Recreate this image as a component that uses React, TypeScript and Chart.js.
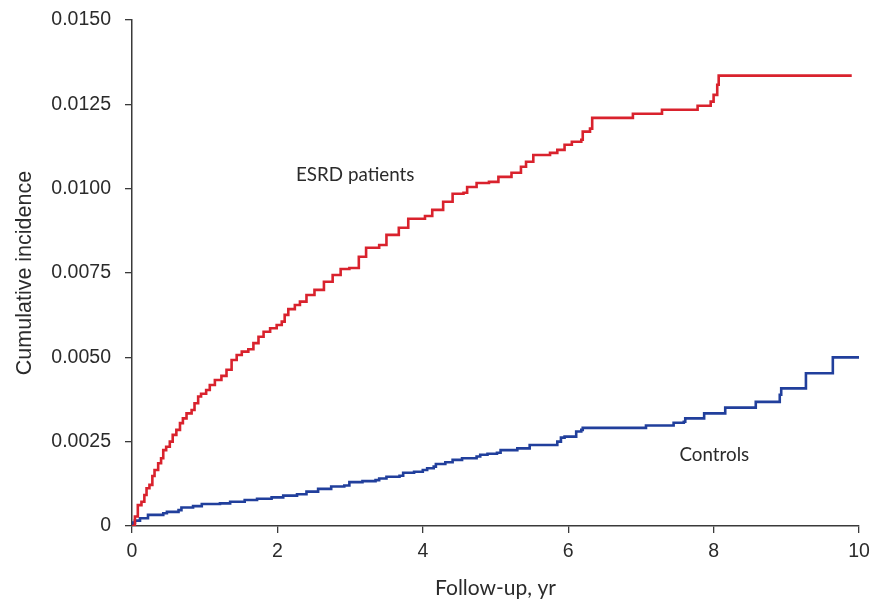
import React, { useEffect, useRef } from "react";
import { Chart, registerables } from "chart.js";

Chart.register(...registerables);

// ESRD patients: event times (years) and cumulative incidence after each step
const esrdTimes = [
  0, 0.04, 0.08, 0.13, 0.17, 0.2, 0.24, 0.28, 0.31, 0.36, 0.4, 0.43, 0.47, 0.52, 0.56, 0.61,
  0.66, 0.7, 0.75, 0.82, 0.86, 0.91, 0.95, 1.02, 1.07, 1.14, 1.23, 1.3, 1.37, 1.44, 1.51, 1.6,
  1.67, 1.74, 1.81, 1.9, 1.99, 2.06, 2.1, 2.15, 2.24, 2.31, 2.4,
  2.51, 2.64, 2.76, 2.87, 2.99, 3.12, 3.22, 3.4, 3.5, 3.67, 3.8, 4.03, 4.13, 4.28, 4.41, 4.56,
  4.61, 4.74, 4.91, 5.04, 5.22, 5.35, 5.42, 5.52, 5.75, 5.85, 5.95, 6.05, 6.18, 6.2, 6.3, 6.33,
  6.89, 7.29, 7.78, 7.96, 8.0, 8.05, 8.07, 9.9,
];
const esrdIncidence = [
  0, 0.00028, 0.00062, 0.00072, 0.00092, 0.00112, 0.00122, 0.00148, 0.00166, 0.00186, 0.00201,
  0.00225, 0.00235, 0.0025, 0.0027, 0.00285, 0.00305, 0.00319, 0.00334, 0.00344, 0.00364,
  0.00384, 0.00392, 0.00403, 0.00418, 0.00433, 0.00445, 0.00463, 0.00492, 0.00507, 0.00517,
  0.00524, 0.00542, 0.00561, 0.00576, 0.00586, 0.00596, 0.00606, 0.00626, 0.00643, 0.00655,
  0.00665, 0.00685,
  0.007, 0.00724, 0.00744, 0.00762, 0.00765, 0.00798, 0.00825, 0.00833, 0.00863,
  0.00884, 0.00911, 0.00919, 0.00937, 0.00961, 0.00985, 0.00988, 0.01005, 0.01017, 0.0102,
  0.01035, 0.01047, 0.01065, 0.0108, 0.011, 0.01106, 0.01115, 0.0113, 0.01139, 0.01145, 0.01169,
  0.01178, 0.0121, 0.01222, 0.01234, 0.01246, 0.01258, 0.01278, 0.01308, 0.01335, 0.01335,
];

// Controls
const controlTimes = [
  0, 0.01, 0.04, 0.11, 0.22, 0.43, 0.48, 0.64, 0.68, 0.84, 0.96, 1.21, 1.35, 1.55, 1.72, 1.92,
  2.08, 2.27, 2.4, 2.56, 2.74, 2.92, 2.99, 3.17, 3.35, 3.4, 3.5, 3.68, 3.73, 3.88, 4.0, 4.06,
  4.15, 4.18, 4.31, 4.41, 4.54, 4.74, 4.79, 4.89, 5.02, 5.07, 5.3, 5.47, 5.85, 5.9, 5.95, 6.11,
  6.18, 6.2, 7.07, 7.45, 7.59, 7.61, 7.87, 8.16, 8.58, 8.91, 8.93, 9.27, 9.64, 10.0,
];
const controlIncidence = [
  0, 0.0001, 0.00016, 0.00023, 0.00033, 0.00038, 0.00042, 0.00047, 0.00055, 0.00059, 0.00065,
  0.00067, 0.00072, 0.00077, 0.00081, 0.00085, 0.0009, 0.00094, 0.00102, 0.0011, 0.00117,
  0.0012, 0.0013, 0.00133, 0.00136, 0.00141, 0.00146, 0.00149, 0.00158, 0.00161, 0.00166,
  0.00171, 0.00176, 0.00184, 0.00189, 0.00196, 0.00201, 0.00206, 0.00211, 0.00214, 0.00217,
  0.00225, 0.0023, 0.0024, 0.0025, 0.00262, 0.00265, 0.0028, 0.00285, 0.00291, 0.00298,
  0.00306, 0.00309, 0.00319, 0.00334, 0.00351, 0.00368, 0.00389, 0.00408, 0.00453, 0.005,
  0.005,
];

const seriesNames = ["ESRD patients", "Controls"];
const xTicks = [0, 2, 4, 6, 8, 10];
const yTicks = [0, 0.0025, 0.005, 0.0075, 0.01, 0.0125, 0.015];

// in-plot labels (data coordinates)
const labelXs = [3.07, 8.01];
const labelYs = [0.0104, 0.0021];

const RED = "#d9222d";
const BLUE = "#213f9c";
const TEXT = "#2b2b2b";
const AXIS = "#3a3a3a";
const TICK_FONT = "'Liberation Sans', Arial, sans-serif";
const NOTE_FONT = "Lato, 'Noto Sans', sans-serif";

const toPoints = (xs: number[], ys: number[]) => xs.map((x, i) => ({ x, y: ys[i] }));

const labelPlugin = {
  id: "seriesLabels",
  afterDatasetsDraw(chart: any) {
    const { ctx, scales } = chart;
    ctx.save();
    ctx.font = `18.8px ${NOTE_FONT}`;
    ctx.fillStyle = TEXT;
    ctx.textAlign = "center";
    ctx.textBaseline = "middle";
    seriesNames.forEach((name, i) => {
      ctx.fillText(name, scales.x.getPixelForValue(labelXs[i]), scales.y.getPixelForValue(labelYs[i]));
    });
    ctx.restore();
  },
};

export default function App() {
  const ref = useRef<HTMLCanvasElement | null>(null);

  useEffect(() => {
    if (!ref.current) return;
    const chart = new Chart(ref.current, {
      type: "line",
      data: {
        datasets: [
          {
            label: seriesNames[0],
            data: toPoints(esrdTimes, esrdIncidence),
            borderColor: RED,
            borderWidth: 2.6,
            pointRadius: 0,
            stepped: true,
            fill: false,
          },
          {
            label: seriesNames[1],
            data: toPoints(controlTimes, controlIncidence),
            borderColor: BLUE,
            borderWidth: 2.6,
            pointRadius: 0,
            stepped: true,
            fill: false,
          },
        ],
      },
      options: {
        animation: false,
        responsive: false,
        events: [],
        layout: { padding: { top: 20, right: 18, left: 0, bottom: 0 } },
        plugins: { legend: { display: false }, tooltip: { enabled: false } },
        scales: {
          x: {
            type: "linear",
            min: 0,
            max: 10,
            afterFit: (s: any) => {
              s.height = 77;
              s.paddingLeft = 0;
              s.paddingRight = 0;
            },
            afterBuildTicks: (s: any) => {
              s.ticks = xTicks.map((v) => ({ value: v }));
            },
            ticks: {
              color: TEXT,
              font: { family: TICK_FONT, size: 19.5 },
              padding: 7,
              maxRotation: 0,
              callback: (v: any) => String(v),
            },
            grid: { display: true, drawOnChartArea: false, drawTicks: true, tickLength: 7, color: AXIS, lineWidth: 1.3 },
            border: { display: true, color: AXIS, width: 1.5 },
            title: {
              display: true,
              text: "Follow-up, yr",
              color: TEXT,
              font: { family: NOTE_FONT, size: 21 },
              padding: { top: 0, bottom: 2 },
            },
          },
          y: {
            type: "linear",
            min: 0,
            max: 0.015,
            afterFit: (s: any) => {
              s.width = 132;
              s.paddingTop = 0;
              s.paddingBottom = 0;
            },
            afterBuildTicks: (s: any) => {
              s.ticks = yTicks.map((v) => ({ value: v }));
            },
            ticks: {
              color: TEXT,
              font: { family: TICK_FONT, size: 19.5 },
              padding: 14,
              callback: (v: any) => (Number(v) === 0 ? "0" : Number(v).toFixed(4)),
            },
            grid: { display: true, drawOnChartArea: false, drawTicks: true, tickLength: 7, color: AXIS, lineWidth: 1.3 },
            border: { display: true, color: AXIS, width: 1.5 },
            title: {
              display: true,
              text: "Cumulative incidence",
              color: TEXT,
              font: { family: TICK_FONT, size: 21.5 },
              padding: { top: 12, bottom: 0 },
            },
          },
        },
      },
      plugins: [labelPlugin],
    });
    return () => chart.destroy();
  }, []);

  return (
    <div style={{ position: "absolute", left: 0, top: 0, width: 877, height: 603, background: "#fff" }}>
      <canvas ref={ref} width={877} height={603} style={{ display: "block" }} />
    </div>
  );
}
